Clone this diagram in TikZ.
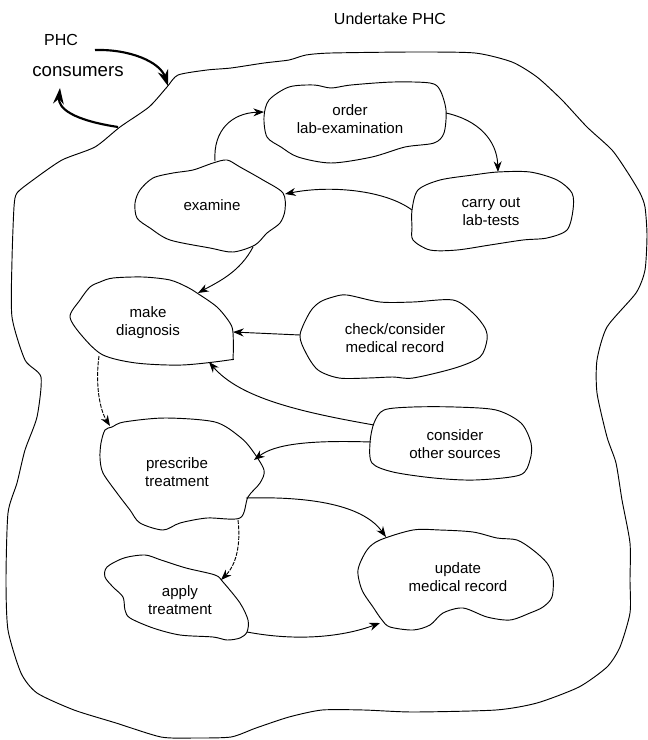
\documentclass[tikz,border=0pt]{standalone}
\usepackage{fontspec}
\setmainfont{Liberation Sans}
\usetikzlibrary{arrows.meta}
\begin{document}
\begin{tikzpicture}[x=0.75pt,y=-0.75pt,
  blob/.style={line width=0.7pt, line join=round},
  lbl/.style={font=\fontsize{11.3}{13.5}\selectfont, align=center, inner sep=0pt},
  title/.style={font=\fontsize{12}{14}\selectfont, inner sep=0pt},
  flow/.style={line width=0.7pt, -{Stealth[length=8pt,width=6pt]}},
  faint/.style={flow, dash pattern=on 3pt off 1pt},
  big/.style={line width=1.6pt, -{Stealth[length=12pt,width=8pt]}}]
\useasboundingbox (0,0) rectangle (648,740);

% outer boundary
\draw[blob] plot[smooth cycle, tension=0.4] coordinates {
 (167,87) (178,75) (207,70) (231,68) (264,63) (289,60) (306,55) (331,53)
 (413,52) (475,53) (512,62) (537,77) (562,100) (587,127) (612,150) (628,173)
 (640,193) (645,207) (647,235) (645,270) (636,293) (607,327) (597,360)
 (597,393) (607,437) (616,463) (622,500) (630,543) (630,580) (630,613)
 (620,647) (607,667) (579,687) (537,703) (496,710) (413,712) (364,710)
 (322,710) (289,717) (256,728) (231,737) (194,738) (161,737) (116,723)
 (74,710) (37,693) (21,673) (8,630) (6,580) (8,513) (17,483) (25,450)
 (37,417) (41,377) (25,360) (12,317) (12,260) (14,207) (17,193) (33,180)
 (62,160) (95,147) (120,127) (149,107)};

% blobs
\draw[blob] plot[smooth cycle, tension=0.5] coordinates {
 (269,100) (289,87) (314,85) (331,88) (351,85) (393,82) (430,83) (440,90)
 (446,110) (444,133) (434,143) (405,147) (372,157) (331,163) (298,157)
 (281,147) (267,137) (264,117)};
\draw[blob] plot[smooth cycle, tension=0.5] coordinates {
 (135,203) (140,190) (153,178) (173,173) (193,170) (213,163) (227,160)
 (240,167) (263,180) (283,193) (285,210) (280,223) (267,233) (255,245)
 (233,252) (210,248) (170,240) (150,228) (137,218)};
\draw[blob] plot[smooth cycle, tension=0.5] coordinates {
 (412,210) (418,190) (440,180) (473,175) (498,172) (530,172) (557,180)
 (572,193) (573,210) (567,230) (547,238) (523,240) (490,245) (457,250)
 (430,250) (413,240) (412,227)};
\draw[blob] plot[smooth cycle, tension=0.5] coordinates {
 (90,287) (100,282) (113,278) (143,277) (170,280) (187,287) (197,293)
 (217,307) (230,323) (233,333) (233,357) (229,360) (182,365) (136,363)
 (103,355) (83,337) (70,317) (80,300)};
\draw[blob] plot[smooth cycle, tension=0.5] coordinates {
 (320,302) (333,297) (347,295) (380,302) (413,302) (453,300) (473,313)
 (485,328) (487,340) (480,357) (455,368) (413,378) (393,377) (368,378)
 (339,378) (318,370) (306,353) (300,335) (310,312)};
\draw[blob] plot[smooth cycle, tension=0.5] coordinates {
 (384,410) (413,407) (455,407) (496,410) (521,423) (531,443) (530,460)
 (520,475) (475,480) (434,478) (393,472) (372,463) (370,443) (374,423)};
\draw[blob] plot[smooth cycle, tension=0.5] coordinates {
 (112,427) (124,422) (165,418) (215,422) (240,437) (252,450) (264,470)
 (260,483) (248,497) (240,518) (207,518) (180,523) (163,530) (140,523)
 (130,510) (117,493) (103,473) (100,458) (101,443) (105,430)};
\draw[blob] plot[smooth cycle, tension=0.5] coordinates {
 (107,567) (124,558) (145,555) (161,560) (186,568) (215,575) (223,582)
 (240,603) (248,620) (247,632) (240,638) (227,640) (213,637) (180,635)
 (153,628) (130,618) (125,610) (123,597) (113,587) (105,577)};
\draw[blob] plot[smooth cycle, tension=0.5] coordinates {
 (380,540) (413,530) (440,530) (473,532) (497,538) (517,540) (533,550)
 (547,563) (553,577) (552,597) (543,607) (530,613) (510,620) (487,617)
 (463,608) (443,613) (430,625) (413,630) (390,627) (382,620) (373,607)
 (362,590) (358,570) (367,550)};

% texts
\node[title] (undertake) at (390,19) {Undertake PHC};
\node[title] (phc) at (61,40) {PHC};
\node[font=\fontsize{14}{16}\selectfont, inner sep=0pt] (consumers) at (78,72) {consumers};
\node[lbl] (order) at (350,119) {order\\lab-examination};
\node[lbl] (examine) at (212,205) {examine};
\node[lbl] (carry) at (491,212) {carry out\\lab-tests};
\node[lbl] (diag) at (148,323) {make\\diagnosis};
\node[lbl] (check) at (395,338) {check/consider\\medical record};
\node[lbl] (other) at (455,444) {consider\\other sources};
\node[lbl] (prescribe) at (177,472) {prescribe\\treatment};
\node[lbl] (apply) at (180,600) {apply\\treatment};
\node[lbl] (update) at (458,577) {update\\medical record};

% connection points
\coordinate (phcstart) at (95,50);
\coordinate (bndin) at (168,86);
\coordinate (bndout) at (118,127);
\coordinate (constip) at (60,88);
\coordinate (exN) at (215,161);
\coordinate (exE) at (285,194);
\coordinate (exS) at (253,247);
\coordinate (orW) at (264,112);
\coordinate (orE) at (446,113);
\coordinate (caN) at (498,172);
\coordinate (caW) at (412,210);
\coordinate (dgNE) at (198,293);
\coordinate (dgE) at (233,332);
\coordinate (dgSE) at (209,362);
\coordinate (dgS) at (99,356);
\coordinate (ckW) at (300,335);
\coordinate (otW1) at (374,425);
\coordinate (otW2) at (371,442);
\coordinate (prN) at (110,426);
\coordinate (prE) at (254,460);
\coordinate (prSE) at (246,498);
\coordinate (prS) at (238,520);
\coordinate (apN) at (221,580);
\coordinate (apE) at (247,632);
\coordinate (upNW) at (386,537);
\coordinate (upSW) at (380,623);

% connectors
\draw[big] (phcstart) .. controls (130,49) and (160,62) .. (bndin);
\draw[big] (bndout) .. controls (72,120) and (58,108) .. (constip);
\draw[flow] (exN) .. controls (213,130) and (232,113) .. (orW);
\draw[flow] (orE) .. controls (478,120) and (497,140) .. (caN);
\draw[flow] (caW) .. controls (385,190) and (330,185) .. (exE);
\draw[flow] (exS) .. controls (240,272) and (218,282) .. (dgNE);
\draw[flow] (ckW) -- (dgE);
\draw[flow] (otW1) .. controls (300,412) and (240,398) .. (dgSE);
\draw[flow] (otW2) .. controls (310,440) and (275,444) .. (prE);
\draw[faint] (dgS) .. controls (95,385) and (100,410) .. (prN);
\draw[flow] (prSE) .. controls (320,496) and (365,508) .. (upNW);
\draw[faint] (prS) .. controls (241,545) and (236,565) .. (apN);
\draw[flow] (apE) .. controls (300,642) and (345,636) .. (upSW);
\end{tikzpicture}
\end{document}
